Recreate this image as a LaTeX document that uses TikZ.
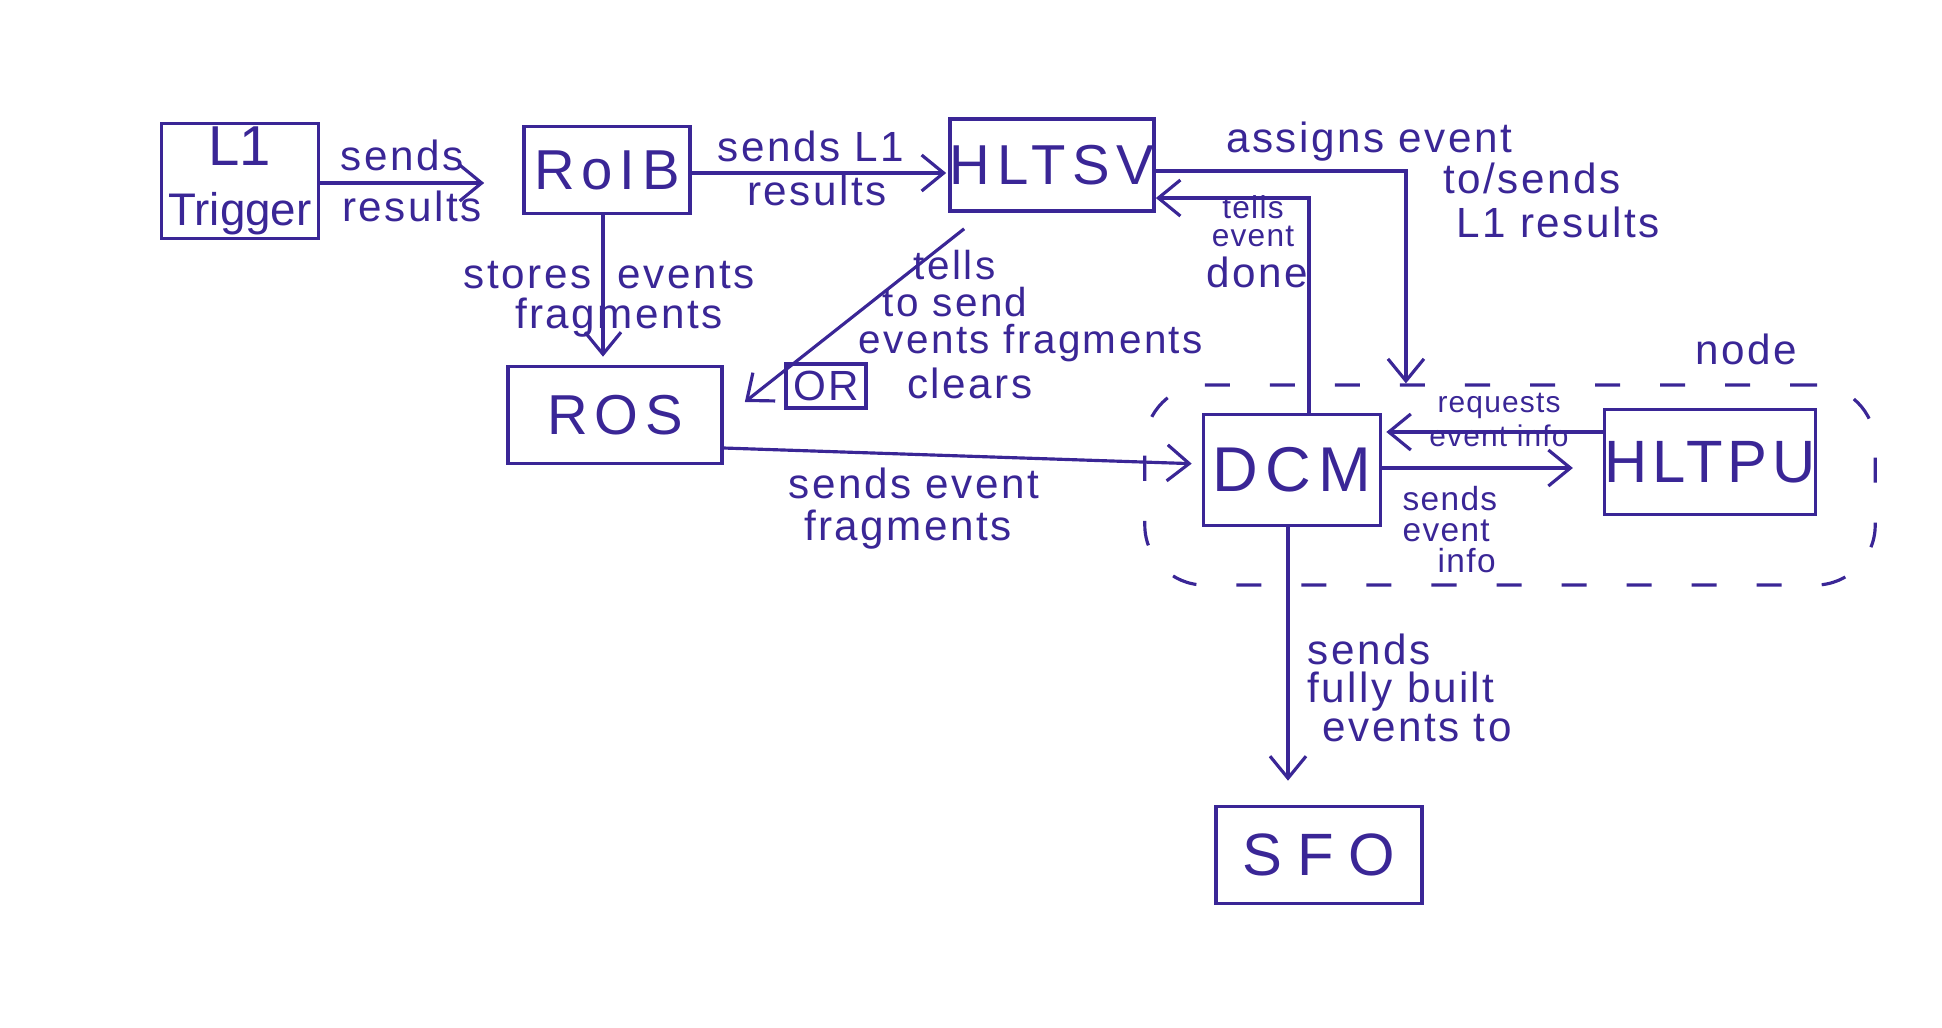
\documentclass[tikz,border=0pt]{standalone}
\usepackage{fontspec}
\setmainfont{Liberation Sans}
\usetikzlibrary{arrows.meta}
\definecolor{ink}{RGB}{58,38,150}
\tikzset{
  box/.style={draw=ink, line width=1pt, inner sep=0pt, align=center, text=ink},
  big/.style={font=\fontsize{16}{18}\selectfont\addfontfeature{LetterSpace=12}},
  lbl/.style={text=ink, inner sep=0pt, font=\fontsize{12}{14}\selectfont\addfontfeature{LetterSpace=6}},
  slbl/.style={text=ink, inner sep=0pt, font=\fontsize{8.5}{10}\selectfont\addfontfeature{LetterSpace=4}},
  arr/.style={draw=ink, line width=0.9pt, -{Straight Barb[length=2.2mm,width=3.6mm]}},
  grpline/.style={draw=ink, line width=0.9pt, dash pattern=on 0.25cm off 0.4cm, rounded corners=0.6cm}
}
\begin{document}
\begin{tikzpicture}[x=0.01cm,y=-0.01cm]
\useasboundingbox (0,0) rectangle (1942,1027);

% group region
\node[grpline, minimum width=7.3cm, minimum height=2.0cm] (grp) at (1510,485) {};
\node[lbl] (nodelbl) at (1746,349) {node};

% boxes
\node[box, minimum width=1.57cm, minimum height=1.15cm, font=\fontsize{14}{17}\selectfont] (l1) at (240,181)
  {{\fontsize{16}{18}\selectfont L1}\\{\fontsize{13}{15}\selectfont Trigger}};
\node[box, big, minimum width=1.66cm, minimum height=0.87cm] (roib) at (607,170) {RoIB};
\node[box, big, minimum width=2.04cm, minimum height=0.92cm] (hltsv) at (1052,165) {HLTSV};
\node[box, big, minimum width=2.14cm, minimum height=0.97cm] (ros) at (615,415) {ROS};
\node[box, big, font=\fontsize{18}{20}\selectfont\addfontfeature{LetterSpace=12}, minimum width=1.77cm, minimum height=1.11cm] (dcm) at (1292,470) {DCM};
\node[box, big, font=\fontsize{17}{20}\selectfont\addfontfeature{LetterSpace=8}, minimum width=2.03cm, minimum height=1.05cm] (hltpu) at (1710,462) {HLTPU};
\node[box, big, font=\fontsize{17}{20}\selectfont\addfontfeature{LetterSpace=25}, minimum width=2.06cm, minimum height=0.97cm] (sfo) at (1319,855) {SFO};

% connectors
\draw[arr, shorten >=0.38cm] ([yshift=-0.02cm]l1.east) -- ([yshift=-0.02cm]l1.east -| roib.west);
\draw[arr, shorten >=0.02cm] ([yshift=-0.03cm]roib.east) -- ([yshift=-0.03cm]roib.east -| hltsv.west);
\draw[arr, shorten >=0.08cm] ([xshift=-0.04cm]roib.south) -- ([xshift=-0.04cm]roib.south |- ros.north);
\draw[arr] ([shift={(0.16cm,-0.16cm)}]hltsv.south west) -- ([shift={(0.21cm,0.13cm)}]ros.east);
\draw[arr] ([yshift=-0.06cm]hltsv.east) -| ([xshift=-1.04cm]grp.north);
\draw[arr] ([xshift=0.17cm]dcm.north) |- ([yshift=-0.33cm]hltsv.east);
\draw[arr, shorten >=0.1cm] ([yshift=-0.33cm]ros.east) -- ([yshift=0.06cm]dcm.west);
\coordinate (rq) at ([yshift=0.3cm]hltpu.west);
\draw[arr, shorten >=0.04cm] (rq) -- (rq -| dcm.east);
\draw[arr, shorten >=0.3cm] ([yshift=0.02cm]dcm.east) -- ([yshift=0.02cm]dcm.east -| hltpu.west);
\draw[arr, shorten >=0.24cm] ([xshift=-0.04cm]dcm.south) -- ([xshift=-0.04cm]dcm.south |- sfo.north);

% labels
\node[lbl] (t1) at (402,155) {sends};
\node[lbl] (t2) at (412,206) {results};
\node[lbl] (t3) at (811,146) {sends L1};
\node[lbl] (t4) at (817,190) {results};
\node[lbl, anchor=east] (t5) at (592,275) {stores};
\node[lbl, anchor=west] (t6) at (617,275) {events};
\node[lbl] (t7) at (619,318) {fragments};
\node[lbl, align=left, anchor=west, font=\fontsize{11.5}{10.5}\selectfont\addfontfeature{LetterSpace=6}] (tells) at (858,306)
  {\hspace*{0.55cm}tells\\\hspace*{0.24cm}to send\\events fragments};
\node[lbl, draw=ink, line width=0.9pt, inner sep=2pt] (or) at (826,386) {OR};
\node[lbl] (t11) at (970,383) {clears};
\node[slbl, align=center, font=\fontsize{9}{8}\selectfont\addfontfeature{LetterSpace=4}] (ted) at (1253,221) {tells\\event};
\node[lbl] (t14) at (1257,272) {done};
\node[lbl] (t15) at (1369,142) {assigns event};
\node[lbl] (t16) at (1532,178) {to/sends};
\node[lbl] (t17) at (1558,222) {L1 results};
\node[slbl, align=center, font=\fontsize{8.5}{9.5}\selectfont\addfontfeature{LetterSpace=4}] (rqlbl) at (1499,420) {requests\\event info};
\node[slbl, align=left, anchor=north west, font=\fontsize{9.5}{8.8}\selectfont\addfontfeature{LetterSpace=4}] (sei) at (1402,486)
  {sends\\event\\\hspace*{0.35cm}info};
\node[lbl] (t23) at (914,483) {sends event};
\node[lbl] (t24) at (908,530) {fragments};
\node[lbl, align=left, anchor=north west, font=\fontsize{12}{11}\selectfont\addfontfeature{LetterSpace=6}] (sfb) at (1307,633)
  {sends\\fully built\\\hspace*{0.15cm}events to};
\end{tikzpicture}
\end{document}
